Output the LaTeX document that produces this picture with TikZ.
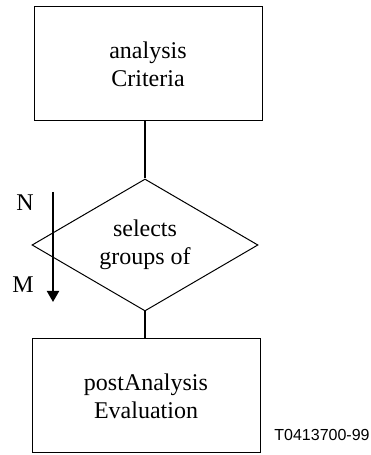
\documentclass[tikz,border=0pt]{standalone}
\usepackage{fontspec}
\setmainfont{Liberation Serif}
\setsansfont{Liberation Sans}
\usepackage{tikz}
\usetikzlibrary{shapes.geometric,arrows.meta}

\begin{document}
\begin{tikzpicture}[x=1pt,y=1pt]
            \tikzstyle{every node}=[font=\fontsize{12}{13.8}\selectfont, align=center, inner sep=0pt];
            \tikzstyle{classbox}=[draw, line width=0.5pt, minimum width=114pt, minimum height=57pt];
            \tikzstyle{relation}=[draw, shape=diamond, aspect=1.7, line width=0.5pt, minimum width=113pt, minimum height=66pt];
            \tikzstyle{link}=[line width=1pt];
            \useasboundingbox (0,0) rectangle (185,227.5);
            \node[classbox] (criteria) at (74,195.5) {analysis\\Criteria};
            \node[relation] (selects) at (72.5,105) {selects\\groups of};
            \node[classbox] (evaluation) at (73,29.5) {postAnalysis\\Evaluation};
            \draw[link] (selects.north) -- (selects.north |- criteria.south);
            \draw[link] (selects.south) -- (selects.south |- evaluation.north);
            \coordinate (from) at (26.5,131.5);
            \coordinate (to) at (26.5,76.5);
            \draw[link, -{Triangle[width=6pt,length=5.5pt]}] (from) -- (to);
            \node (n) at (12.5,126) {N};
            \node (m) at (11.5,85) {M};
            \node[font=\sffamily\fontsize{8}{9.6}\selectfont] (tag) at (161,10) {T0413700-99};
        \end{tikzpicture}
\end{document}
